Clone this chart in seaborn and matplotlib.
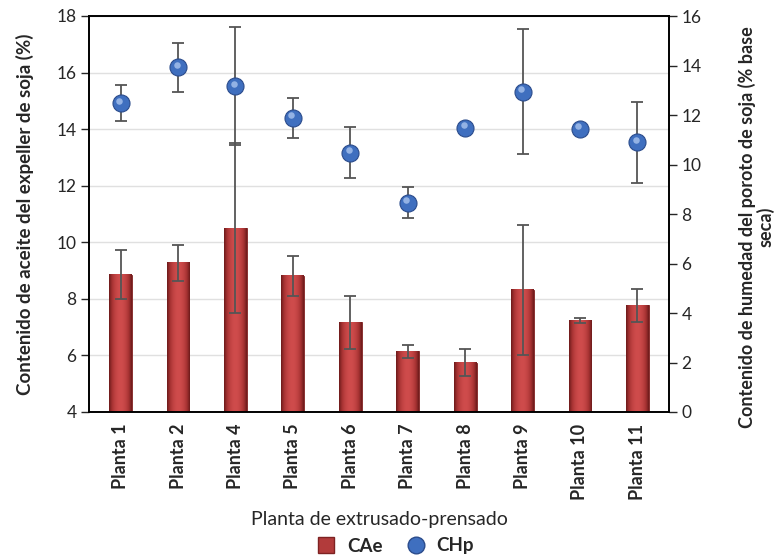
import numpy as np
import matplotlib
matplotlib.use("Agg")
import matplotlib.pyplot as plt
import matplotlib.transforms as mtransforms
from matplotlib.colors import LinearSegmentedColormap
from matplotlib.lines import Line2D
import seaborn as sns

plantas = ["Planta 1", "Planta 2", "Planta 4", "Planta 5", "Planta 6",
           "Planta 7", "Planta 8", "Planta 9", "Planta 10", "Planta 11"]
cae = [8.85, 9.27, 10.50, 8.82, 7.17, 6.14, 5.75, 8.32, 7.24, 7.77]
cae_err = [0.87, 0.65, 3.00, 0.71, 0.93, 0.23, 0.47, 2.30, 0.08, 0.58]
chp = [12.47, 13.92, 13.17, 11.88, 10.48, 8.46, 11.49, 12.94, 11.44, 10.90]
chp_err = [0.73, 0.99, 2.40, 0.79, 1.02, 0.62, 0.0, 2.53, 0.0, 1.63]

sns.set_style("white")
plt.rcParams["font.family"] = ["Lato", "DejaVu Sans"]

fig = plt.figure(figsize=(7.74, 5.6), dpi=100)
ax = fig.add_axes([89 / 774, 1 - 412 / 560, (669 - 89) / 774, (412 - 16) / 560])

bar_color = "#B23B3B"
sns.barplot(x=plantas, y=cae, ax=ax, width=0.4, color=bar_color,
            saturation=1, edgecolor="#7E2222", linewidth=0.6, zorder=2)
ax.set_xlim(-0.55, len(plantas) - 0.45)
ax.set_ylim(4, 18)

# horizontal shading on each bar for a rounded look
grad = np.linspace(-1, 1, 64)
shade = 1 - 0.5 * grad ** 2
cmap = LinearSegmentedColormap.from_list("bar", ["#6E1A1A", "#A93434", "#CF4C4C"])
for p in list(ax.patches):
    x0, y0 = p.get_x(), p.get_y()
    w, h = p.get_width(), p.get_height()
    im = ax.imshow(shade[None, :], cmap=cmap, vmin=0.5, vmax=1.0,
                   extent=[x0, x0 + w, y0 + h, y0], aspect="auto", zorder=2.1)
    im.set_clip_path(p)
    im.set_clip_box(ax.bbox)
ax.set_xlim(-0.55, len(plantas) - 0.45)
ax.set_ylim(4, 18)

pos = np.arange(len(plantas))
ax.errorbar(pos, cae, yerr=cae_err, fmt="none", ecolor="#555555",
            elinewidth=1.3, capsize=4, capthick=1.3, zorder=3)

ax.set_yticks(np.arange(4, 19, 2))
ax.yaxis.grid(True, color="#E0E0E0", linewidth=1)
ax.set_axisbelow(True)
for s in ax.spines.values():
    s.set_color("black")
    s.set_linewidth(1.2)
ax.tick_params(axis="y", left=True, length=6, width=1, labelsize=12.5, pad=3)
ax.tick_params(axis="x", bottom=False, labelsize=13, pad=5)
ax.set_xticks(pos)
ax.set_xticklabels(plantas, rotation=90, fontweight="bold")
ax.set_ylabel("Contenido de aceite del expeller de soja (%)",
              fontsize=13.5, fontweight="bold")
ax.yaxis.set_label_coords(-0.095, 0.5)
ax.set_xlabel("Planta de extrusado-prensado", fontsize=14, labelpad=8)

ax2 = ax.twinx()
ax2.set_ylim(0, 16)
ax2.set_yticks(np.arange(0, 17, 2))
ax2.errorbar(pos, chp, yerr=chp_err, fmt="none", ecolor="#555555",
             elinewidth=1.3, capsize=4, capthick=1.3, zorder=3)
ax2.scatter(pos, chp, s=150, color="#3F6FBF", edgecolor="#2B4C8C",
            linewidth=0.8, zorder=4)
hl = mtransforms.offset_copy(ax2.transData, fig=fig, x=-1.5, y=2.5, units="dots")
ax2.scatter(pos, chp, s=22, color="#A9C4EE", alpha=0.8, linewidth=0,
            transform=hl, zorder=5)
ax2.tick_params(axis="y", right=True, length=6, width=1, labelsize=12.5, pad=3)
ax2.grid(False)
for s in ax2.spines.values():
    s.set_color("black")
    s.set_linewidth(1.2)

fig.text(756 / 774, 1 - 227 / 560,
         "Contenido de humedad del poroto de soja (% base\nseca)",
         rotation=90, ha="center", va="center", multialignment="center",
         fontsize=13, fontweight="bold", linespacing=1.0)

handles = [
    Line2D([], [], marker="s", linestyle="none", markersize=11,
           markerfacecolor=bar_color, markeredgecolor="#7E2222"),
    Line2D([], [], marker="o", linestyle="none", markersize=12,
           markerfacecolor="#3F6FBF", markeredgecolor="#2B4C8C"),
]
fig.legend(handles, ["CAe", "CHp"], loc="center",
           bbox_to_anchor=(0.505, 1 - 546 / 560), ncol=2, frameon=False,
           handletextpad=0.1, columnspacing=0.8,
           prop={"weight": "bold", "size": 13.5})

fig.savefig("out.png", dpi=100)
